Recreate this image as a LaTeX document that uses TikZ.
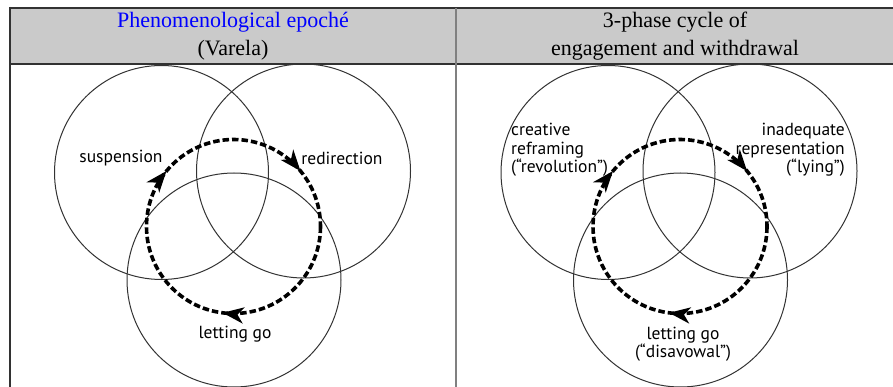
\documentclass[tikz,border=0pt]{standalone}
\usepackage{fontspec}
\setmainfont{Liberation Serif}
\newfontfamily\labelfont{PT Sans}
\usetikzlibrary{arrows.meta,decorations.markings}
\definecolor{headgray}{RGB}{202,202,202}
\definecolor{rulegray}{RGB}{50,50,50}
\tikzset{
ring/.style={draw=black!80, line width=1pt},
loopline/.style={line width=3.6pt, dash pattern=on 6.5pt off 3pt,
  postaction={decorate}},
lab/.style={font=\labelfont\fontsize{17.5}{18.5}\selectfont, inner sep=0pt},
head/.style={font=\fontsize{22}{28}\selectfont, align=center, inner sep=0pt},
venn/.pic={
  \draw[ring] (-72,-54) circle [radius=107];
  \draw[ring] (70,-55.5) circle [radius=107];
  \draw[ring] (0.5,53.5) circle [radius=107];
  \draw[loopline, decoration={markings,
      mark=at position 0.27 with {\arrow{Stealth[length=21pt,width=16pt,inset=6pt]}},
      mark=at position 0.61 with {\arrow{Stealth[length=21pt,width=16pt,inset=6pt]}},
      mark=at position 0.89 with {\arrow{Stealth[length=21pt,width=16pt,inset=6pt]}}}]
    (87,0) arc [start angle=0, end angle=360, radius=87];
  }
}
\begin{document}
\begin{tikzpicture}[x=1pt, y=-1pt]
\useasboundingbox (0,0) rectangle (893,387);
\fill[white] (0,0) rectangle (893,387);
% header row
\fill[headgray] (10,8) rectangle (893,64);
\draw[rulegray, line width=2pt] (9,8) -- (893,8);
\draw[rulegray, line width=2pt] (10,64.5) -- (893,64.5);
\draw[rulegray, line width=2pt] (9.5,7) -- (9.5,387);
\draw[gray, line width=2pt] (456,8) -- (456,387);
\node[head] (head1) at (233,36)
  {\textcolor{blue}{Phenomenological epoché}\\(Varela)};
\node[head] (head2) at (675,36) {3-phase cycle of\\engagement and withdrawal};
% left panel
\pic at (233.5,226.5) {venn};
\node[lab] (susp) at (121,158) {suspension};
\node[lab] (redir) at (342,158) {redirection};
\node[lab] (letgo) at (235,334) {letting go};
% right panel
\pic at (680,226.5) {venn};
\node[lab, anchor=west, align=left] (creat) at (511,150)
  {creative\\reframing\\(“revolution”)};
\node[lab, anchor=east, align=right] (inadeq) at (845,150)
  {inadequate\\representation\\(“lying”)};
\node[lab, align=center] (disav) at (683,344) {letting go\\(“disavowal”)};
\end{tikzpicture}
\end{document}
